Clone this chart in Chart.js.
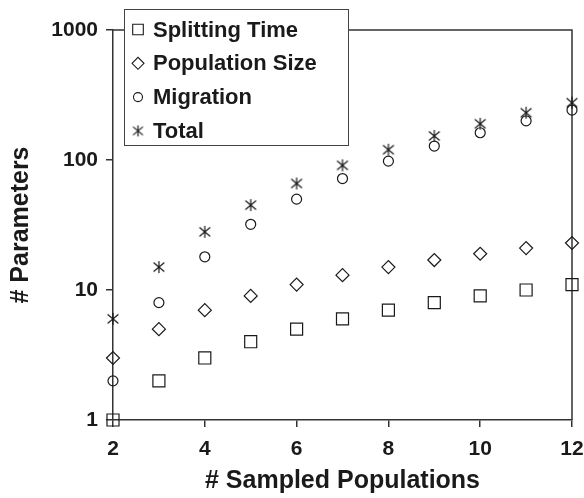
<!DOCTYPE html>
<html>
<head>
<meta charset="utf-8">
<script src="https://cdn.jsdelivr.net/npm/chart.js@4/dist/chart.umd.min.js"></script>
<style>
	html, body { margin: 0; padding: 0; background: #fff; }
	canvas { display: block; }
</style>
</head>
<body>
<canvas id="paramsChart" width="584" height="498"></canvas>
<script>
/* -------------------- data -------------------- */

var populations    = [ 2, 3, 4, 5, 6, 7, 8, 9, 10, 11, 12 ];
var splittingTime  = [ 1, 2, 3, 4, 5, 6, 7, 8, 9, 10, 11 ];
var populationSize = [ 3, 5, 7, 9, 11, 13, 15, 17, 19, 21, 23 ];
var migration      = [ 2, 8, 18, 32, 50, 72, 98, 128, 162, 200, 242 ];
var total          = [ 6, 15, 28, 45, 66, 91, 120, 153, 190, 231, 276 ];

var yTicks = [ 1, 10, 100, 1000 ];

var FONT = "'Liberation Sans', Arial, sans-serif";
var INK  = '#1a1a1a';

/* -------------------- markers -------------------- */

// asterisk: an X with a vertical stroke through it
function makeAsterisk(size) {
	var c = document.createElement('canvas');
	c.width = size;
	c.height = size;
	var g = c.getContext('2d');
	var m = size / 2;
	var r = size / 2 - 1;
	g.strokeStyle = INK;
	g.lineWidth = 1.2;
	g.beginPath();
	g.moveTo(m, m - r);
	g.lineTo(m, m + r);
	g.moveTo(m - r * 0.9, m - r * 0.75);
	g.lineTo(m + r * 0.9, m + r * 0.75);
	g.moveTo(m - r * 0.9, m + r * 0.75);
	g.lineTo(m + r * 0.9, m - r * 0.75);
	g.stroke();
	return c;
}

var asteriskBig   = makeAsterisk(14);
var asteriskSmall = makeAsterisk(13);

function points(ys) {
	return populations.map(function (x, i) { return { x: x, y: ys[i] }; });
}

function series(label, ys, style, radius, legendStyle, legendRadius) {
	return {
		label: label,
		data: points(ys),
		pointStyle: style,
		pointRadius: radius,
		pointHoverRadius: radius,
		pointBorderWidth: 1.2,
		pointBorderColor: INK,
		pointBackgroundColor: 'rgba(0,0,0,0)',
		showLine: false,
		clip: false,
		legendStyle: legendStyle,
		legendRadius: legendRadius
	};
}

/* -------------------- plugins -------------------- */

// box around the plot area (top and right edges)
var framePlugin = {
	id: 'frame',
	beforeDatasetsDraw: function (chart) {
		var a = chart.chartArea;
		var ctx = chart.ctx;
		ctx.save();
		ctx.strokeStyle = '#333';
		ctx.lineWidth = 1.5;
		ctx.beginPath();
		ctx.moveTo(a.left, a.top);
		ctx.lineTo(a.right, a.top);
		ctx.lineTo(a.right, a.bottom);
		ctx.stroke();
		ctx.restore();
	}
};

// boxed legend sitting over the top-left corner
var boxLegend = {
	id: 'boxLegend',
	afterDraw: function (chart) {
		var ctx = chart.ctx;
		var left = 124, top = 9, w = 224, h = 136;
		ctx.save();
		ctx.fillStyle = '#fff';
		ctx.fillRect(left, top, w, h);
		ctx.strokeStyle = '#444';
		ctx.lineWidth = 1;
		ctx.strokeRect(left + 0.5, top + 0.5, w, h);

		ctx.font = 'bold 22px ' + FONT;
		ctx.textBaseline = 'middle';
		ctx.textAlign = 'left';
		chart.data.datasets.forEach(function (ds, i) {
			var y = 29.5 + i * 33.8;
			ctx.strokeStyle = INK;
			ctx.fillStyle = 'rgba(0,0,0,0)';
			ctx.lineWidth = 1.1;
			Chart.helpers.drawPoint(ctx, {
				pointStyle: ds.legendStyle,
				radius: ds.legendRadius,
				rotation: 0,
				borderWidth: 1.1
			}, 138, y);
			ctx.fillStyle = INK;
			ctx.fillText(ds.label, 153, y + 1);
		});
		ctx.restore();
	}
};

/* -------------------- chart -------------------- */

var ctx1 = document.getElementById('paramsChart').getContext('2d');

var paramsChart = new Chart(ctx1, {
	type: 'scatter',
	data: {
		datasets: [
			series('Splitting Time',  splittingTime,  'rect',    8.5, 'rect',    7.5),
			series('Population Size', populationSize, 'rectRot', 6.5, 'rectRot', 6),
			series('Migration',       migration,      'circle',  5,   'circle',  4.5),
			series('Total',           total,          asteriskBig, 7, asteriskSmall, 6)
		]
	},
	options: {
		responsive: false,
		animation: false,
		devicePixelRatio: 1,
		layout: {
			padding: {
				left:   0,
				right:  12,
				top:    30,
				bottom: 0
			}
		},
		plugins: {
			legend:  { display: false },
			tooltip: { enabled: false }
		},
		scales: {
			x: {
				type: 'linear',
				min: 2,
				max: 12,
				afterFit: function (scale) {
					scale.height = 78;
					scale.paddingLeft = 0;
					scale.paddingRight = 0;
				},
				ticks: {
					stepSize: 2,
					color: INK,
					padding: 10,
					font: { family: FONT, size: 21, weight: 'bold' }
				},
				grid: {
					drawOnChartArea: false,
					drawTicks: true,
					tickLength: 7,
					color: '#333',
					lineWidth: 1.5
				},
				border: { display: true, color: '#333', width: 1.5 },
				title: {
					display: true,
					text: '# Sampled Populations',
					color: INK,
					padding: { top: 0, bottom: 2 },
					font: { family: FONT, size: 25, weight: 'bold' }
				}
			},
			y: {
				type: 'logarithmic',
				min: 1,
				max: 1000,
				afterFit: function (scale) {
					scale.width = 113;
					scale.paddingTop = 0;
					scale.paddingBottom = 0;
				},
				afterBuildTicks: function (scale) {
					scale.ticks = yTicks.map(function (v) { return { value: v }; });
				},
				ticks: {
					color: INK,
					padding: 8,
					callback: function (v) { return String(v); },
					font: { family: FONT, size: 21, weight: 'bold' }
				},
				grid: {
					drawOnChartArea: false,
					drawTicks: true,
					tickLength: 7,
					color: '#333',
					lineWidth: 1.5
				},
				border: { display: true, color: '#333', width: 1.5 },
				title: {
					display: true,
					text: '# Parameters',
					color: INK,
					padding: { top: 6, bottom: 0 },
					font: { family: FONT, size: 25, weight: 'bold' }
				}
			}
		}
	},
	plugins: [ framePlugin, boxLegend ]
});
</script>
</body>
</html>
